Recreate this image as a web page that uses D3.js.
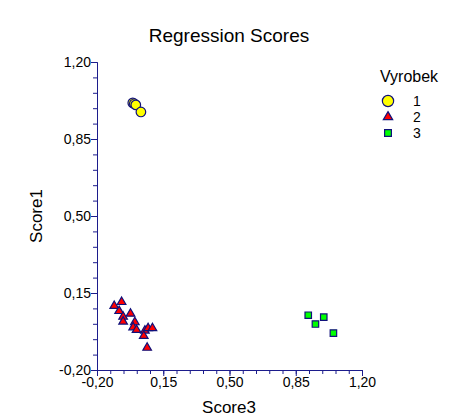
<!DOCTYPE html>
<html>
<head>
    <meta charset='utf-8'>
    <title>Regression Scores</title>
    <script src="https://cdn.jsdelivr.net/npm/d3@7"></script>
    <style>
        body { margin: 0; background: #fff; }
        text { font-family: "Liberation Sans", Arial, sans-serif; fill: #000; }
    </style>
</head>
<body>
    <svg id="chart" width="450" height="417"></svg>

    <script>
        // group 1 (circles)
        const g1_x = [-0.011, -0.003, 0.005, 0.032];
        const g1_y = [1.014, 1.010, 1.005, 0.973];

        // group 2 (triangles)
        const g2_x = [-0.109, -0.070, -0.083, -0.062, -0.062, -0.023, 0.000, -0.009, 0.009, 0.053, 0.070, 0.093, 0.047, 0.065];
        const g2_y = [0.091, 0.109, 0.068, 0.042, 0.020, 0.056, 0.017, -0.006, -0.018, -0.021, -0.010, -0.010, -0.045, -0.099];

        // group 3 (squares)
        const g3_x = [0.916, 0.998, 0.954, 1.049];
        const g3_y = [0.049, 0.040, 0.009, -0.032];

        const majorTicks = [-0.20, 0.15, 0.50, 0.85, 1.20];
        const legendLabels = ["1", "2", "3"];

        const svg = d3.select('#chart');
        const axisColor = '#1c1c8c';

        const x = d3.scaleLinear().domain([-0.2, 1.2]).range([97, 362]);
        const y = d3.scaleLinear().domain([-0.2, 1.2]).range([370, 62]);

        const fmt = d => d.toFixed(2).replace('.', ',');
        const minorTicks = d3.range(0, 21).map(i => -0.2 + i * 0.07);

        // minor ticks
        svg.append('g')
            .attr('transform', 'translate(0,370)')
            .call(d3.axisBottom(x).tickValues(minorTicks).tickSize(4).tickFormat(''))
            .call(g => g.selectAll('line,path').attr('stroke', axisColor));
        svg.append('g')
            .attr('transform', 'translate(97,0)')
            .call(d3.axisLeft(y).tickValues(minorTicks).tickSize(4).tickFormat(''))
            .call(g => g.selectAll('line,path').attr('stroke', axisColor));

        // major ticks
        const xAxis = svg.append('g')
            .attr('transform', 'translate(0,370)')
            .call(d3.axisBottom(x).tickValues(majorTicks).tickSize(6).tickSizeOuter(0).tickFormat(fmt));
        const yAxis = svg.append('g')
            .attr('transform', 'translate(97,0)')
            .call(d3.axisLeft(y).tickValues(majorTicks).tickSize(6).tickSizeOuter(0).tickFormat(fmt));

        [xAxis, yAxis].forEach(a => {
            a.selectAll('line,path').attr('stroke', axisColor);
            a.selectAll('text')
                .style('font-family', '"Liberation Sans", Arial, sans-serif')
                .style('font-size', '14px')
                .attr('fill', '#000');
        });
        xAxis.selectAll('text').attr('dy', '0.71em').attr('y', 7);
        yAxis.selectAll('text').attr('x', -6);

        // points
        const drawGroup = (xs, ys, type, fill, size) => {
            svg.append('g').selectAll('path')
                .data(xs.map((v, i) => [v, ys[i]]))
                .enter()
                .append('path')
                .attr('d', d3.symbol().type(type).size(size))
                .attr('transform', d => `translate(${x(d[0])},${y(d[1])})`)
                .attr('fill', fill)
                .attr('stroke', '#10107a')
                .attr('stroke-width', 1.2);
        };
        drawGroup(g2_x, g2_y, d3.symbolTriangle, '#ff0000', 32);
        drawGroup(g3_x, g3_y, d3.symbolSquare, '#00ff00', 42);
        drawGroup(g1_x, g1_y, d3.symbolCircle, '#ffff00', 72);

        // titles
        svg.append('text')
            .attr('x', 229).attr('y', 42)
            .attr('text-anchor', 'middle')
            .style('font-size', '19px')
            .text('Regression Scores');
        svg.append('text')
            .attr('x', 229).attr('y', 413)
            .attr('text-anchor', 'middle')
            .style('font-size', '17px')
            .text('Score3');
        svg.append('text')
            .attr('transform', 'translate(42,216) rotate(-90)')
            .attr('text-anchor', 'middle')
            .style('font-size', '17px')
            .text('Score1');

        // legend
        svg.append('text')
            .attr('x', 380).attr('y', 82)
            .style('font-size', '16px')
            .text('Vyrobek');
        const legTypes = [d3.symbolCircle, d3.symbolTriangle, d3.symbolSquare];
        const legFills = ['#ffff00', '#ff0000', '#00ff00'];
        const legSizes = [100, 38, 46];
        const leg = svg.append('g').selectAll('g')
            .data(legendLabels)
            .enter()
            .append('g')
            .attr('transform', (d, i) => `translate(388,${101 + i * 16})`);
        leg.append('path')
            .attr('d', (d, i) => d3.symbol().type(legTypes[i]).size(legSizes[i])())
            .attr('fill', (d, i) => legFills[i])
            .attr('stroke', '#10107a')
            .attr('stroke-width', 1.2);
        leg.append('text')
            .attr('x', 25).attr('y', 5)
            .style('font-size', '14px')
            .text(d => d);
    </script>
</body>
</html>
